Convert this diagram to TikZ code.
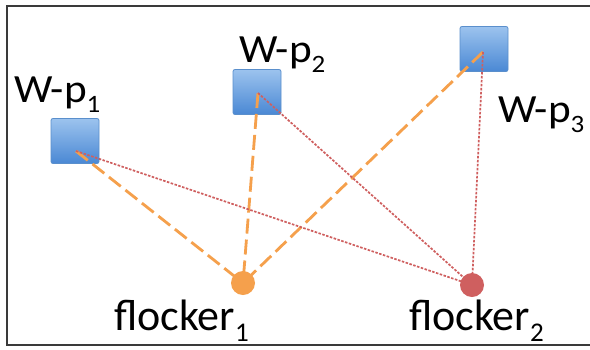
\documentclass[tikz,border=0pt]{standalone}
\usepackage{fontspec}
\setmainfont{Carlito}
\newfontfamily\lblfont{Carlito}
\newfontfamily\widefont[FakeStretch=1.08]{Carlito}
\newcommand{\lowidx}[2]{\raisebox{-0.25em}{\fontsize{#1}{#1}\selectfont #2}}
\definecolor{frameC}{HTML}{3A3A3A}
\definecolor{boxTop}{HTML}{9CC3EE}
\definecolor{boxBot}{HTML}{4A88D4}
\definecolor{boxEdge}{HTML}{5A8FCC}
\definecolor{orangeC}{HTML}{F5A04C}
\definecolor{redC}{HTML}{CF5F5F}
\begin{document}
\begin{tikzpicture}[x=1pt,y=-1pt,
  peer/.style={minimum width=48pt,minimum height=45pt,inner sep=0pt,
    rounded corners=2pt,top color=boxTop,bottom color=boxBot,draw=boxEdge,line width=0.8pt},
  flock/.style={circle,minimum size=24pt,inner sep=0pt},
  lbl/.style={inner sep=0pt,anchor=base west,font=\widefont\fontsize{40}{42}\selectfont},
  flbl/.style={inner sep=0pt,anchor=base west,font=\lblfont\fontsize{44}{46}\selectfont},
  orangeline/.style={draw=orangeC,line width=2.8pt,dash pattern=on 15pt off 6pt},
  redline/.style={draw=redC,line width=1.7pt,dash pattern=on 2.5pt off 1.5pt}]
\useasboundingbox (0,0) rectangle (590,349);
\fill[white] (0,0) rectangle (590,349);
% open frame (right side runs off the page)
\draw[frameC,line width=2.6pt] (600,6) -- (7,6) -- (7,345) -- (600,345);

% peers
\node[peer] (p1) at (75,141) {};
\node[peer] (p2) at (257,92) {};
\node[peer] (p3) at (484,49) {};
\coordinate (c1) at (76,151);
\coordinate (c2) at (258,93);
\coordinate (c3) at (483,52);

% flockers
\node[flock,fill=orangeC] (f1) at (243,283) {};
\node[flock,fill=redC] (f2) at (472,285) {};

% connections to flocker 1
\draw[orangeline] (c1) -- (f1.center);
\draw[orangeline] (c2) -- (f1.center);
\draw[orangeline] (c3) -- (f1.center);
% connections to flocker 2
\draw[redline] (c1) -- (f2.center);
\draw[redline] (c2) -- (f2.center);
\draw[redline] (c3) -- (f2.center);

% labels
\node[lbl] (l1) at (14,102) {W-p\lowidx{25}{1}};
\node[lbl] (l2) at (239,62) {W-p\lowidx{25}{2}};
\node[lbl] (l3) at (498,122) {W-p\lowidx{25}{3}};
\node[flbl] (l4) at (114,330) {flocker\lowidx{27}{1}};
\node[flbl] (l5) at (409,330) {flocker\lowidx{27}{2}};
\end{tikzpicture}
\end{document}
